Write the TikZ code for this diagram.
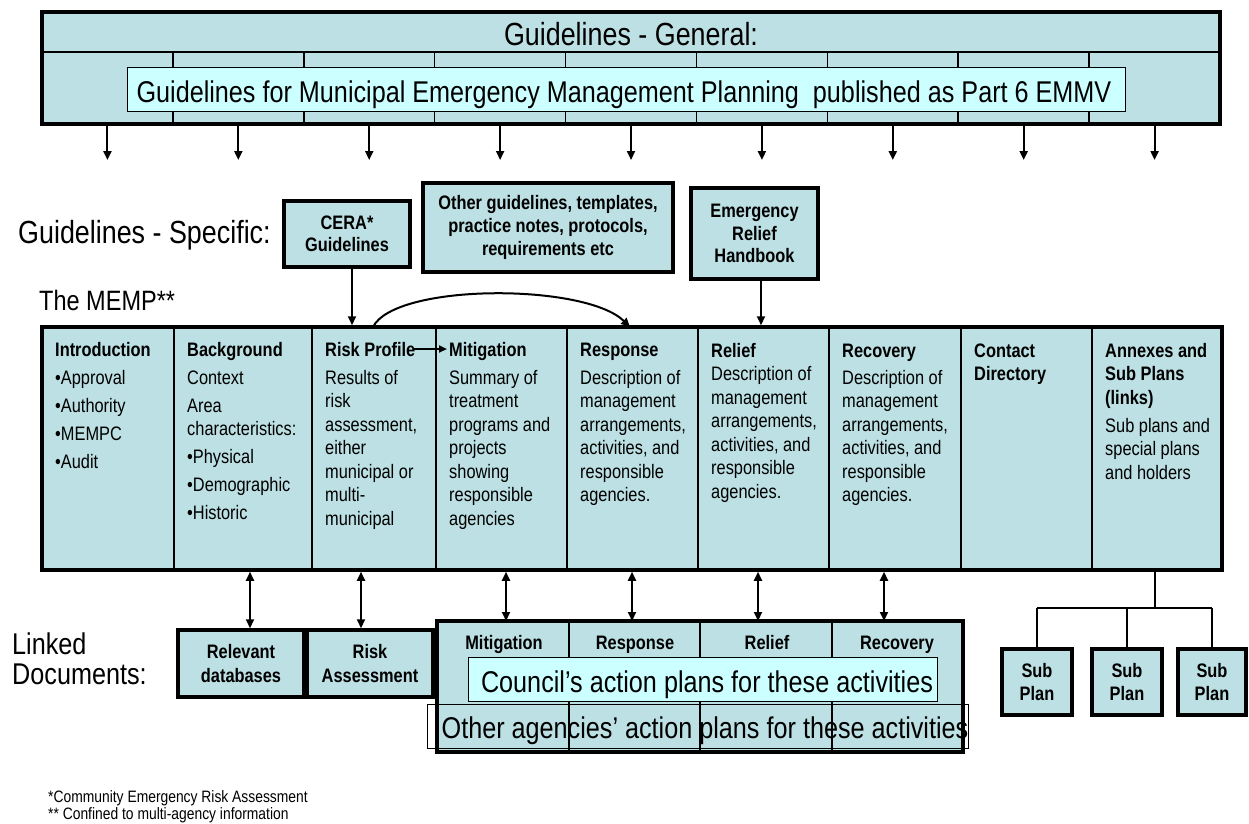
\documentclass[tikz,border=0pt]{standalone}
\usepackage{fontspec}
\setmainfont{Liberation Sans}[FakeStretch=0.84]
\usetikzlibrary{arrows.meta}
\definecolor{boxfill}{RGB}{188,224,227}
\definecolor{cyanfill}{RGB}{204,255,255}
\newcommand{\labeltxt}{\fontsize{32}{28}\selectfont}
\newcommand{\bigtxt}{\fontsize{30}{28}\selectfont}
\newcommand{\bodytxt}{\fontsize{19.5}{23.5}\selectfont}
\newcommand{\boldtxt}{\fontsize{19.5}{22}\selectfont\bfseries}
\newcommand{\foottxt}{\fontsize{16.5}{18}\selectfont}
\newcommand{\coltitle}[1]{\textbf{\vphantom{lI}#1}}
\tikzset{
  bx/.style={draw, line width=3.5pt, fill=boxfill, inner sep=0pt, align=center, font=\boldtxt},
  thinbox/.style={draw, line width=1pt, inner sep=0pt},
  divider/.style={line width=1.5pt},
  lbl/.style={inner sep=0pt, font=\labeltxt, align=left},
  bigline/.style={inner sep=0pt, anchor=base, font=\bigtxt},
  coltext/.style={inner sep=0pt, anchor=north west, align=left, font=\bodytxt},
  hdr/.style={inner sep=0pt, anchor=base, font=\boldtxt},
  foot/.style={inner sep=0pt, anchor=base west, font=\foottxt},
  arr/.style={line width=2pt, -{Triangle[length=9pt,width=8pt]}},
  darr/.style={line width=2pt, {Triangle[length=9pt,width=8pt]}-{Triangle[length=9pt,width=8pt]}},
  tree/.style={line width=1.2pt}
}
\begin{document}
\begin{tikzpicture}[x=1pt,y=-1pt]
\useasboundingbox (0,0) rectangle (1249,823);

% ---------- Top band: Guidelines - General ----------
\node[bx, minimum width=1178pt, minimum height=112pt] (band) at (631,68) {};
\draw[divider] (42,52) -- (1220,52);
\foreach \i in {1,...,8} \draw[divider] ({42+\i*130.89},52) -- ({42+\i*130.89},124);
\node[lbl, anchor=base] (gtitle) at (631,45.5) {Guidelines - General:};
\node[thinbox, fill=cyanfill, minimum width=998pt, minimum height=44pt] (gpart) at (626,89) {};
\node[bigline] (gparttxt) at (624,102.5) {Guidelines for Municipal Emergency Management Planning\ \ published as Part 6 EMMV};
\foreach \i in {0,...,8} {
  \coordinate (gdown\i) at ({42+(\i+0.5)*130.89},160);
  \draw[arr] (band.south -| gdown\i) -- (gdown\i);
}

% ---------- Guidelines - Specific ----------
\node[lbl, anchor=base west] (gspec) at (18,243.5) {Guidelines - Specific:};
\node[bx, minimum width=126pt, minimum height=66pt] (cera) at (347,234) {CERA*\\Guidelines};
\node[bx, minimum width=250pt, minimum height=89pt, font=\fontsize{19.5}{23}\selectfont\bfseries] (other) at (548,227.5)
  {Other guidelines, templates,\\practice notes, protocols,\\requirements etc};
\node[bx, minimum width=127pt, minimum height=91pt, font=\fontsize{19.5}{22.5}\selectfont\bfseries] (erh) at (754.5,233.5)
  {Emergency\\Relief\\Handbook};

% ---------- The MEMP ----------
\node[lbl, anchor=base west, font=\fontsize{28}{28}\selectfont] (memplbl) at (39,310) {The MEMP**};
\node[bx, minimum width=1180pt, minimum height=243pt] (memp) at (632,448.5) {};
\foreach \x in {174,312,436,567,698,829,961,1092} \draw[divider] (\x,327) -- (\x,570);

\node[coltext] (cIntro) at (55,342) {\coltitle{Introduction}\\[4.5pt]•Approval\\[4.5pt]•Authority\\[4.5pt]•MEMPC\\[4.5pt]•Audit};
\node[coltext] (cBack) at (187,342) {\coltitle{Background}\\[4.5pt]Context\\[4.5pt]Area\\characteristics:\\[4.5pt]•Physical\\[4.5pt]•Demographic\\[4.5pt]•Historic};
\node[coltext] (cRisk) at (325,342) {\coltitle{Risk Profile}\\[4.5pt]Results of\\risk\\assessment,\\either\\municipal or\\multi-\\municipal};
\node[coltext] (cMit) at (449,342) {\coltitle{Mitigation}\\[4.5pt]Summary of\\treatment\\programs and\\projects\\showing\\responsible\\agencies};
\node[coltext] (cResp) at (580,342) {\coltitle{Response}\\[4.5pt]Description of\\management\\arrangements,\\activities, and\\responsible\\agencies.};
\node[coltext] (cRel) at (711,343) {\coltitle{Relief}\\Description of\\management\\arrangements,\\activities, and\\responsible\\agencies.};
\node[coltext] (cRec) at (842,343) {\coltitle{Recovery}\\[3.5pt]Description of\\management\\arrangements,\\activities, and\\responsible\\agencies.};
\node[coltext] (cCont) at (974,343) {\coltitle{Contact}\\\textbf{Directory}};
\node[coltext] (cAnn) at (1105,343) {\coltitle{Annexes and}\\\textbf{Sub Plans}\\\textbf{(links)}\\[4.5pt]Sub plans and\\special plans\\and holders};

% arrows into the MEMP
\draw[arr] ([xshift=5pt]cera.south) -- ([xshift=5pt]cera.south |- memp.north);
\draw[arr] ([xshift=6.5pt]erh.south) -- ([xshift=6.5pt]erh.south |- memp.north);
\coordinate (rpStart) at (373,327);
\coordinate (respTop) at (630,327);
\draw[line width=2pt, -{Triangle[length=9pt,width=8pt]}] (rpStart) .. controls (395,283) and (585,283) .. (respTop);
\coordinate (rpEnd) at (413,349);
\coordinate (mitStart) at (447,349);
\draw[line width=2pt, -{Triangle[length=8pt,width=7pt]}] (rpEnd) -- (mitStart);

% ---------- Linked documents ----------
\node[lbl, anchor=base west, font=\fontsize{30}{30}\selectfont] (linked) at (12,684.7) {Linked\\Documents:};
\node[bx, minimum width=126pt, minimum height=67pt, font=\fontsize{19.5}{24}\selectfont\bfseries] (reldb) at (241,663.5) {Relevant\\databases};
\node[bx, minimum width=126pt, minimum height=67pt, font=\fontsize{19.5}{24}\selectfont\bfseries] (riskass) at (370,663.5) {Risk\\Assessment};
\draw[darr] ([xshift=9pt]reldb.north |- memp.south) -- ([xshift=9pt]reldb.north);
\draw[darr] ([xshift=-9pt]riskass.north |- memp.south) -- ([xshift=-9pt]riskass.north);

% table of action plans
\node[bx, line width=4pt, minimum width=526pt, minimum height=131pt] (tbl) at (700,686.5) {};
\foreach \x in {569,700,832} \draw[divider] (\x,621) -- (\x,752);
\node[hdr] (hMit) at (504,649) {Mitigation};
\node[hdr] (hResp) at (635,649) {Response};
\node[hdr] (hRel) at (767,649) {Relief};
\node[hdr] (hRec) at (897,649) {Recovery};
\node[thinbox, fill=cyanfill, minimum width=469pt, minimum height=44pt] (council) at (702.5,679) {};
\node[bigline] (counciltxt) at (707,692) {Council’s action plans for these activities};
\node[thinbox, minimum width=541pt, minimum height=44pt] (others) at (697.5,726) {};
\node[bigline] (otherstxt) at (705,738.5) {Other agencies’ action plans for these activities};
\foreach \x/\n in {506/a,632/b,758/c,884/d} {
  \coordinate (tt\n) at (\x,621);
  \draw[darr] (memp.south -| tt\n) -- (tt\n);
}

% sub plans
\node[bx, minimum width=70pt, minimum height=66pt, font=\fontsize{19.5}{23}\selectfont\bfseries] (sp1) at (1037,682) {Sub\\Plan};
\node[bx, minimum width=70pt, minimum height=66pt, font=\fontsize{19.5}{23}\selectfont\bfseries] (sp2) at (1127,682) {Sub\\Plan};
\node[bx, minimum width=68pt, minimum height=66pt, font=\fontsize{19.5}{23}\selectfont\bfseries] (sp3) at (1212,682) {Sub\\Plan};
\coordinate (annBot) at (1155,570);
\coordinate (junc) at (1155,608);
\draw[tree] (annBot) -- (junc);
\draw[tree] (sp1.north |- junc) -- (sp3.north |- junc);
\draw[tree] (sp1.north |- junc) -- (sp1.north);
\draw[tree] (sp2.north |- junc) -- (sp2.north);
\draw[tree] (sp3.north |- junc) -- (sp3.north);

% footnotes
\node[foot] (fn1) at (48,802) {*Community Emergency Risk Assessment};
\node[foot] (fn2) at (48,819) {** Confined to multi-agency information};
\end{tikzpicture}
\end{document}
